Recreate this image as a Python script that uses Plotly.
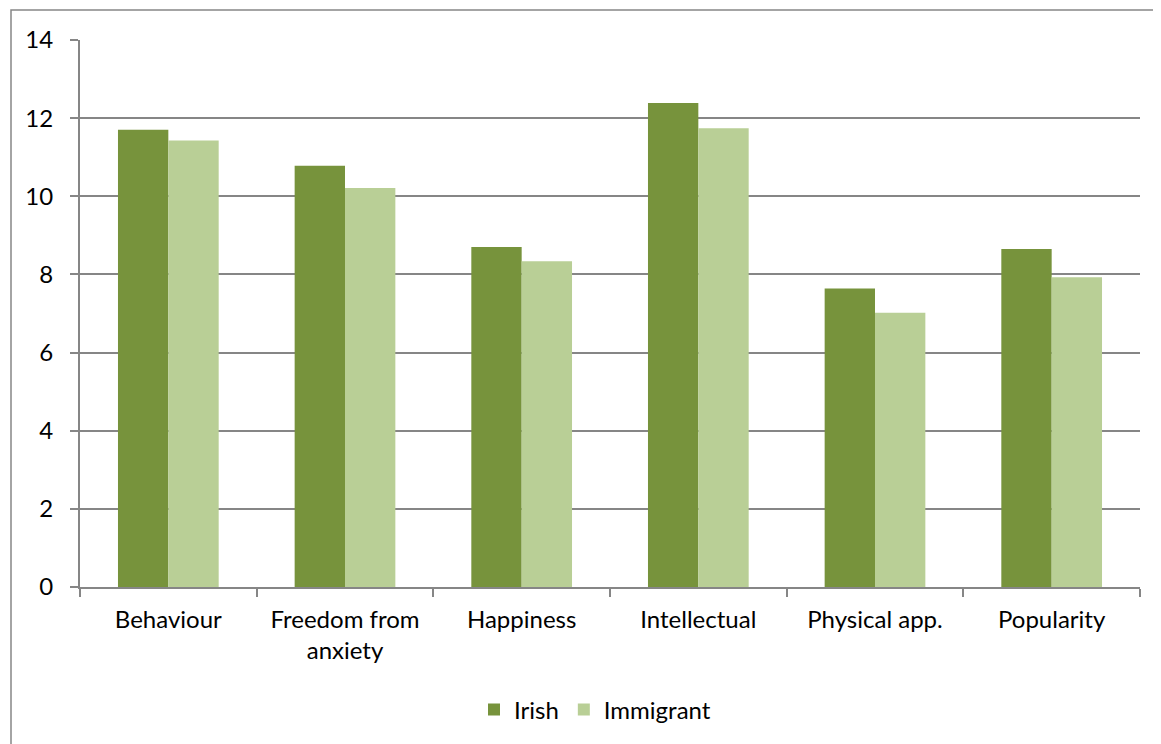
import plotly.graph_objects as go

categories = ["Behaviour", "Freedom from<br>anxiety", "Happiness", "Intellectual", "Physical app.", "Popularity"]
irish = [11.70, 10.78, 8.70, 12.39, 7.64, 8.65]
immigrant = [11.43, 10.21, 8.34, 11.74, 7.02, 7.93]

W, H = 1161, 744
# page body has 8px margin; target plot area in window pixels: x 80..1140, y 40..587
L, R, T, B = 72, 29, 32, 165
PX0, PX1, PY0, PY1 = 80, 1140, 40, 587
pw, ph = PX1 - PX0, PY1 - PY0

def px(x):
    return (x - PX0) / pw

def py(y):
    return (PY1 - y) / ph

fig = go.Figure()
fig.add_trace(go.Bar(x=categories, y=irish, name="Irish", marker=dict(color="#77933C", line=dict(width=0))))
fig.add_trace(go.Bar(x=categories, y=immigrant, name="Immigrant", marker=dict(color="#B9CF96", line=dict(width=0))))

fig.update_layout(
    width=W, height=H,
    margin=dict(l=L, r=R, t=T, b=B, autoexpand=False),
    paper_bgcolor="white", plot_bgcolor="white",
    font=dict(family="Lato, 'Open Sans', sans-serif", size=24, color="black"),
    barmode="group", bargap=0.43, bargroupgap=0,
    showlegend=True,
    legend=dict(orientation="h", x=px(595), xanchor="center", y=py(710), yanchor="middle",
                font=dict(size=24), itemwidth=30, traceorder="normal"),
    xaxis=dict(showline=True, linecolor="#868686", linewidth=2, ticks="outside", tickson="boundaries",
               ticklen=8, tickcolor="#868686", tickwidth=2, showgrid=False, tickfont=dict(size=24),
               ticklabelstandoff=10),
    yaxis=dict(range=[0, 14], dtick=2, showgrid=True, gridcolor="#868686", gridwidth=1.5,
               showline=True, linecolor="#868686", linewidth=2, ticks="outside", ticklen=8,
               tickcolor="#868686", tickwidth=1.5, zeroline=False, tickfont=dict(size=24),
               ticklabelstandoff=12),
)

# outer chart border
fig.add_shape(type="rect", xref="paper", yref="paper",
              x0=px(11), x1=px(1160), y0=py(760), y1=py(10),
              line=dict(color="#868686", width=1.5), fillcolor="rgba(0,0,0,0)", layer="below")

fig.write_html("out.html")
